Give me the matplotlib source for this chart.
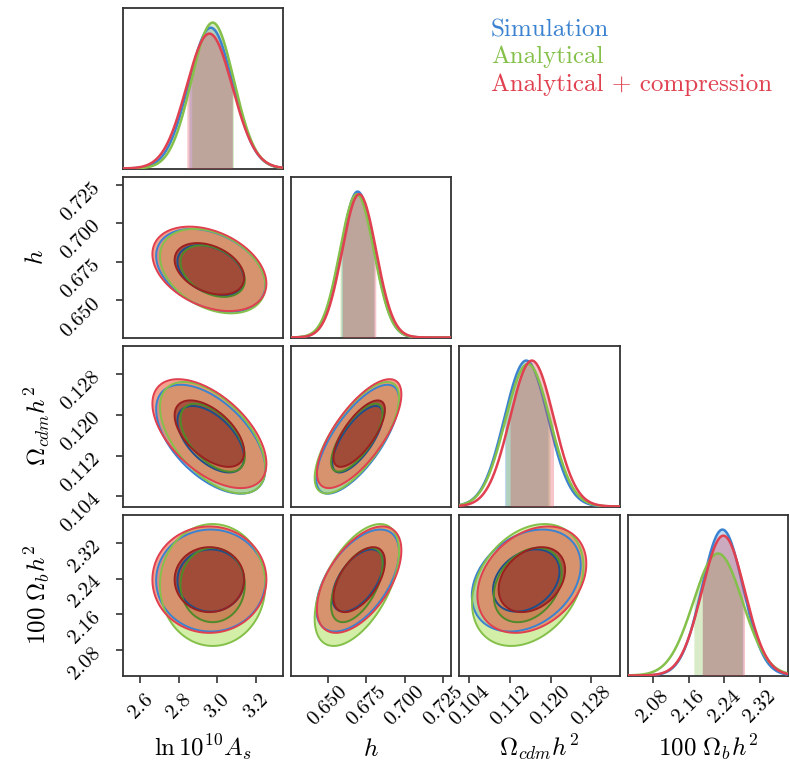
import numpy as np
import matplotlib
matplotlib.use('Agg')
import matplotlib.pyplot as plt
from matplotlib.ticker import FixedLocator, NullLocator, FixedFormatter

plt.rcParams['font.family'] = 'serif'
plt.rcParams['font.serif'] = ['cmr10', 'DejaVu Serif']
plt.rcParams['mathtext.fontset'] = 'cm'
plt.rcParams['axes.formatter.use_mathtext'] = True

# ---------------- data ----------------
param_labels = [r'$\ln 10^{10}A_s$', r'$h$', r'$\Omega_{cdm}h^2$', r'$100\ \Omega_b h^2$']
param_ranges = [(2.507, 3.34), (0.626, 0.730), (0.102, 0.1335), (2.023, 2.383)]
param_ticks = [[2.6, 2.8, 3.0, 3.2],
               [0.650, 0.675, 0.700, 0.725],
               [0.104, 0.112, 0.120, 0.128],
               [2.08, 2.16, 2.24, 2.32]]
param_ticklabels = [['2.6', '2.8', '3.0', '3.2'],
                    ['0.650', '0.675', '0.700', '0.725'],
                    ['0.104', '0.112', '0.120', '0.128'],
                    ['2.08', '2.16', '2.24', '2.32']]

series_names = ['Simulation', 'Analytical', 'Analytical + compression']
series_colors = ['#3b82d0', '#84c04a', '#e0404f']
series_outer_fill = ['#5a9ee0', '#b0e060', '#f07052']
series_inner_fill = ['#2a5a90', '#5a8a30', '#8a2a25']
series_inner_line = ['#1f4f8a', '#4f8a2a', '#9b2020']

# posterior means (As, h, omc, omb) per series
means_sim = [2.965, 0.6695, 0.1152, 2.236]
means_ana = [2.975, 0.6690, 0.1155, 2.226]
means_comp = [2.958, 0.6705, 0.1163, 2.238]
# posterior standard deviations per series
sigmas_sim = [0.114, 0.0108, 0.0043, 0.046]
sigmas_ana = [0.110, 0.0110, 0.0044, 0.055]
sigmas_comp = [0.119, 0.0110, 0.0043, 0.048]
# pairwise correlation coefficients (i, j) -> rho
corr_pairs = [(0, 1), (0, 2), (0, 3), (1, 2), (1, 3), (2, 3)]
corr_values = [-0.35, -0.55, 0.0, 0.72, 0.55, 0.3]

all_means = [means_sim, means_ana, means_comp]
all_sigmas = [sigmas_sim, sigmas_ana, sigmas_comp]
corr = dict(zip(corr_pairs, corr_values))

# 2D contour levels (68% and 95% mass for a 2D gaussian, in chi^2)
chi2_68 = 2.30
chi2_95 = 6.18

# ---------------- layout ----------------
W, H = 790, 772
fig = plt.figure(figsize=(W / 100, H / 100), dpi=100)
col_left = [122.5, 290.5, 459.0, 627.5]
row_top = [8.0, 177.0, 346.0, 515.0]
ax_w, ax_h = 160.5, 160.5

spine_col = '#333333'
n = 4
for r in range(n):
    for c in range(r + 1):
        ax = fig.add_axes([col_left[c] / W, 1 - (row_top[r] + ax_h) / H, ax_w / W, ax_h / H])
        for s in ax.spines.values():
            s.set_color(spine_col)
            s.set_linewidth(1.3)
        ax.set_xlim(param_ranges[c])
        if r == c:
            x = np.linspace(*param_ranges[c], 400)
            peak = 0
            for k in range(3):
                m, s = all_means[k][c], all_sigmas[k][c]
                y = np.exp(-0.5 * ((x - m) / s) ** 2) / (s * np.sqrt(2 * np.pi))
                peak = max(peak, y.max())
                ax.plot(x, y, color=series_colors[k], lw=1.8, zorder=3 + k)
                msk = (x >= m - s) & (x <= m + s)
                ax.fill_between(x[msk], 0, y[msk], color=series_colors[k], alpha=0.3, lw=0, zorder=1 + k)
            ax.set_ylim(0, peak * 1.1)
            ax.yaxis.set_major_locator(NullLocator())
        else:
            ax.set_ylim(param_ranges[r])
            gx = np.linspace(*param_ranges[c], 250)
            gy = np.linspace(*param_ranges[r], 250)
            X, Y = np.meshgrid(gx, gy)
            rho = corr[(c, r)]
            for k in range(3):
                mx, my = all_means[k][c], all_means[k][r]
                sx, sy = all_sigmas[k][c], all_sigmas[k][r]
                u = (X - mx) / sx
                v = (Y - my) / sy
                chi2 = (u ** 2 - 2 * rho * u * v + v ** 2) / (1 - rho ** 2)
                ax.contourf(X, Y, chi2, levels=[-1, chi2_95], colors=[series_outer_fill[k]], alpha=0.55 if k < 2 else 0.65)
                ax.contourf(X, Y, chi2, levels=[-1, chi2_68], colors=[series_inner_fill[k]], alpha=0.5 if k < 2 else 0.6)
                ax.contour(X, Y, chi2, levels=[chi2_95], colors=[series_colors[k]], linewidths=1.4)
                ax.contour(X, Y, chi2, levels=[chi2_68], colors=[series_inner_line[k]], linewidths=1.4)
        # ticks
        ax.tick_params(direction='out', length=5, width=1.2, color=spine_col, labelsize=15)
        ax.tick_params(axis='x', pad=17)
        ax.tick_params(axis='y', pad=13)
        if r == n - 1:
            ax.xaxis.set_major_locator(FixedLocator(param_ticks[c]))
            ax.xaxis.set_major_formatter(FixedFormatter(param_ticklabels[c]))
            for lab in ax.get_xticklabels():
                lab.set_rotation(45)
                lab.set_va('center')
            xl = ax.set_xlabel(param_labels[c], fontsize=18)
            xl.set_va('baseline')
            ax.xaxis.set_label_coords(0.5, (row_top[r] + ax_h - 756) / ax_h)
        else:
            ax.xaxis.set_major_locator(NullLocator())
        if c == 0 and r > 0:
            ax.yaxis.set_major_locator(FixedLocator(param_ticks[r]))
            ax.yaxis.set_major_formatter(FixedFormatter(param_ticklabels[r]))
            for lab in ax.get_yticklabels():
                lab.set_rotation(45)
                lab.set_rotation_mode('anchor')
                lab.set_ha('right')
                lab.set_va('center')
            yl = ax.set_ylabel(param_labels[r], fontsize=18)
            yl.set_va('center')
            ax.yaxis.set_label_coords((37 - col_left[0]) / ax_w, 0.5)
        elif r != c:
            ax.yaxis.set_major_locator(NullLocator())

# legend as coloured text
leg_y = [36.5, 63.5, 91.5]
for k in range(3):
    fig.text(491 / W, 1 - leg_y[k] / H, series_names[k], color=series_colors[k],
             fontsize=18, ha='left', va='baseline')

fig.savefig('out.png', dpi=100, facecolor='white')
